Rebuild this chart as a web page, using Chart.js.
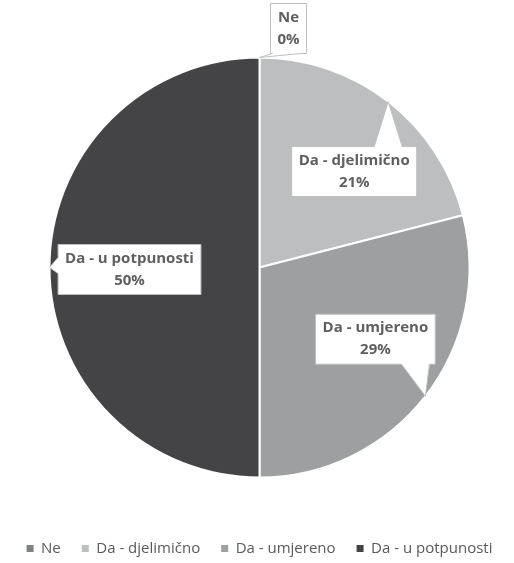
<!DOCTYPE html>
<html>
<head>
<meta charset="utf-8">
<script src="https://cdn.jsdelivr.net/npm/chart.js@4"></script>
<style>
  html, body { margin: 0; padding: 0; background: #fff; }
  #wrap { width: 514px; height: 563px; }
</style>
</head>
<body>
<div id="wrap"><canvas id="pie"></canvas></div>
<script>
const categories = ['Ne', 'Da - djelimično', 'Da - umjereno', 'Da - u potpunosti'];
const values = [0, 21, 29, 50];
const colors = ['#7f8081', '#bdbebf', '#9d9fa1', '#444446'];

// where each callout box sits, relative to the point it points at (px)
const calloutOffsets = [[29, -29], [-34, 70], [-50, -57], [80, 2]];

const labelFont = 'bold 15px "Open Sans"';
const labelColor = '#5f5f5f';

const total = values.reduce((a, b) => a + b, 0);

const callouts = {
    id: 'callouts',
    afterDatasetsDraw(chart) {
        const ctx = chart.ctx;
        const arcs = chart.getDatasetMeta(0).data;
        ctx.save();
        ctx.font = labelFont;
        arcs.forEach((arc, i) => {
            const mid = (arc.startAngle + arc.endAngle) / 2;
            const ax = arc.x + Math.cos(mid) * arc.outerRadius;
            const ay = arc.y + Math.sin(mid) * arc.outerRadius;
            const lines = [categories[i], Math.round(values[i] / total * 100) + '%'];
            const w = Math.max(...lines.map(l => ctx.measureText(l).width)) + 14;
            const h = 50;
            const cx = ax + calloutOffsets[i][0], cy = ay + calloutOffsets[i][1];
            const l = cx - w / 2, r = cx + w / 2, t = cy - h / 2, b = cy + h / 2;

            // pick the side facing the anchor and put the wedge on it
            let side;
            if (ay < t) side = 'top';
            else if (ay > b) side = 'bottom';
            else if (ax < l) side = 'left';
            else side = 'right';
            const half = 14;
            const clamp = (v, lo, hi) => Math.min(Math.max(v, lo), hi);

            const pts = [[l, t]];
            if (side === 'top') {
                const m = clamp(ax, l + half + 2, r - half - 2);
                pts.push([m - half, t], [ax, ay], [m + half, t]);
            }
            pts.push([r, t]);
            if (side === 'right') {
                const m = clamp(ay, t + half + 2, b - half - 2);
                pts.push([r, m - half], [ax, ay], [r, m + half]);
            }
            pts.push([r, b]);
            if (side === 'bottom') {
                const m = clamp(ax - 10, l + half + 2, r - half - 2);
                pts.push([m + half, b], [ax, ay], [m - half, b]);
            }
            pts.push([l, b]);
            if (side === 'left') {
                const m = clamp(ay, t + 8, b - half - 2);
                pts.push([l, m + 6], [ax, ay], [l, m - 10]);
            }

            ctx.beginPath();
            pts.forEach((p, k) => k ? ctx.lineTo(p[0], p[1]) : ctx.moveTo(p[0], p[1]));
            ctx.closePath();
            ctx.fillStyle = '#fff';
            ctx.fill();
            ctx.strokeStyle = '#bfbfbf';
            ctx.lineWidth = 1;
            ctx.stroke();

            ctx.fillStyle = labelColor;
            ctx.textAlign = 'center';
            ctx.textBaseline = 'middle';
            ctx.fillText(lines[0], cx, cy - 11);
            ctx.fillText(lines[1], cx, cy + 11);
        });
        ctx.restore();
    }
};

new Chart(document.getElementById('pie'), {
    type: 'pie',
    data: {
        labels: categories,
        datasets: [{
            data: values,
            backgroundColor: colors,
            borderColor: '#fff',
            borderWidth: 2,
            radius: 210
        }]
    },
    options: {
        responsive: true,
        maintainAspectRatio: false,
        animation: false,
        layout: { padding: { top: 15, left: 5, right: 0, bottom: -3 } },
        plugins: {
            tooltip: { enabled: false },
            legend: {
                position: 'bottom',
                labels: {
                    boxWidth: 7,
                    boxHeight: 7,
                    padding: 21,
                    color: '#595959',
                    font: { family: '"Open Sans"', size: 15 },
                    generateLabels(chart) {
                        return Chart.overrides.pie.plugins.legend.labels.generateLabels(chart)
                            .map(it => ({ ...it, lineWidth: 0, strokeStyle: 'rgba(0,0,0,0)', hidden: false }));
                    }
                }
            }
        }
    },
    plugins: [callouts]
});
</script>
</body>
</html>
